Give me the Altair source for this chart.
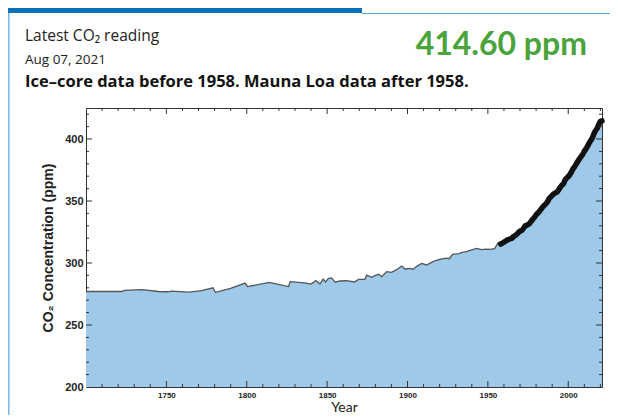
import altair as alt
import pandas as pd

# ---- data ----
ice_years = [1700, 1722, 1724, 1735, 1745, 1751, 1753, 1764, 1772, 1779, 1780.5, 1790, 1799,
             1800.5, 1814, 1826, 1827, 1836, 1840, 1843, 1845.5, 1847.5, 1849, 1850.7, 1852.8,
             1855, 1858, 1862, 1867, 1869.5, 1873.5, 1874.6, 1877.7, 1880, 1882, 1884, 1887,
             1890, 1893, 1896.3, 1898.4, 1901.5, 1903.5, 1906, 1908.8, 1911.8, 1915, 1917,
             1920, 1924, 1926, 1928, 1932, 1934, 1936.7, 1940, 1943, 1946, 1949, 1952,
             1954.3, 1956.4, 1958]
ice_ppm = [277, 277, 278, 278.5, 277, 276.8, 277.3, 276.5, 277.8, 280, 276.4, 279.5, 283.8,
           281, 284.3, 281, 285, 284, 283, 285.8, 283, 287, 284.7, 287.5, 288,
           284.5, 285.5, 285.7, 284.7, 286.8, 286.8, 290.2, 288.4, 290, 291, 289, 293,
           292.5, 294.4, 297.6, 295.2, 295.7, 295, 297.5, 299.7, 298.4, 300.5, 301.8,
           303, 304, 303.5, 307, 307.5, 308.5, 309.1, 310.5, 311.8, 310.8, 311.2, 311,
           311.8, 316.4, 313.7]

ml_years = [1958, 1959, 1960, 1961, 1962, 1963, 1964, 1965, 1966, 1967, 1968, 1969, 1970,
            1971, 1972, 1973, 1974, 1975, 1976, 1977, 1978, 1979, 1980, 1981, 1982, 1983,
            1984, 1985, 1986, 1987, 1988, 1989, 1990, 1991, 1992, 1993, 1994, 1995, 1996,
            1997, 1998, 1999, 2000, 2001, 2002, 2003, 2004, 2005, 2006, 2007, 2008, 2009,
            2010, 2011, 2012, 2013, 2014, 2015, 2016, 2017, 2018, 2019, 2020, 2021]
ml_ppm = [315.3, 316.0, 316.9, 317.6, 318.5, 319.0, 319.6, 320.0, 321.4, 322.2, 323.1, 324.6,
          325.7, 326.3, 327.5, 329.7, 330.2, 331.1, 332.0, 333.8, 335.4, 336.8, 338.8, 340.1,
          341.5, 343.2, 344.9, 346.4, 347.6, 349.3, 351.7, 353.2, 354.5, 355.7, 356.5, 357.2,
          359.0, 361.0, 362.7, 363.9, 366.8, 368.5, 369.7, 371.3, 373.5, 376.0, 377.7, 380.0,
          382.1, 384.0, 385.8, 387.6, 390.1, 391.9, 394.1, 396.7, 398.8, 401.0, 404.4, 406.8,
          408.7, 411.7, 414.2, 414.6]

x_major = [1750, 1800, 1850, 1900, 1950, 2000]
x_minor = [1710, 1720, 1730, 1740, 1760, 1770, 1780, 1790, 1810, 1820, 1830, 1840,
           1860, 1870, 1880, 1890, 1910, 1920, 1930, 1940, 1960, 1970, 1980, 1990,
           2010, 2020]
y_labels = [200, 250, 300, 350, 400]
y_major = [250, 300, 350, 400]
y_minor = [210, 220, 230, 240, 260, 270, 280, 290, 310, 320, 330, 340, 360, 370, 380,
           390, 410, 420]

header_line1 = ["Latest CO₂ reading"]
header_line2 = ["Aug 07, 2021"]
header_line3 = ["Ice–core data before 1958. Mauna Loa data after 1958."]
latest_value = ["414.60 ppm"]

W, H = 516, 279

df_ice = pd.DataFrame({"year": ice_years, "ppm": ice_ppm})
df_ml = pd.DataFrame({"year": ml_years, "ppm": ml_ppm})
df_all = pd.concat([df_ice, df_ml], ignore_index=True)

xs = alt.Scale(domain=[1700, 2021], nice=False, zero=False)
ys = alt.Scale(domain=[200, 425], nice=False, zero=False)

xaxis = alt.Axis(values=x_major, format="d", ticks=False, domain=False, grid=False,
                 labelFont="Liberation Sans", labelFontSize=8, labelFontWeight="bold",
                 labelColor="#222", labelPadding=4, title="Year", titleFont="Lato",
                 titleFontSize=14, titleFontWeight="normal", titleColor="#222",
                 titlePadding=1)
yaxis = alt.Axis(values=y_labels, ticks=False, domain=False, grid=False,
                 labelFont="Liberation Sans", labelFontSize=11, labelFontWeight="bold",
                 labelColor="#222", labelPadding=3, title="CO₂ Concentration (ppm)",
                 titleFont="Liberation Sans", titleFontSize=14, titleFontWeight="bold",
                 titleColor="#222", titlePadding=9)

X = alt.X("year:Q", scale=xs, axis=xaxis)
Y = alt.Y("ppm:Q", scale=ys, axis=yaxis)

area = alt.Chart(df_all).mark_area(color="#9ec9e9", opacity=1).encode(
    x=X, y=Y, y2=alt.datum(200))
ice_line = alt.Chart(df_ice).mark_line(color="#555555", strokeWidth=1.3).encode(x=X, y=Y)
ml_line = alt.Chart(df_ml).mark_line(color="#111111", strokeWidth=5.5, strokeCap="round",
                                     interpolate="monotone").encode(x=X, y=Y)

def xticks(vals, length):
    d = pd.DataFrame({"year": vals})
    b = alt.Chart(d).mark_rule(color="#333", strokeWidth=1).encode(
        x=X, y=alt.value(H), y2=alt.value(H - length))
    t = alt.Chart(d).mark_rule(color="#333", strokeWidth=1).encode(
        x=X, y=alt.value(0), y2=alt.value(length))
    return [b, t]

def yticks(vals, length):
    d = pd.DataFrame({"ppm": vals})
    l = alt.Chart(d).mark_rule(color="#333", strokeWidth=1).encode(
        y=Y, x=alt.value(0), x2=alt.value(length))
    r = alt.Chart(d).mark_rule(color="#333", strokeWidth=1).encode(
        y=Y, x=alt.value(W), x2=alt.value(W - length))
    return [l, r]

def label(txt, x, y, size, weight, color, align="left", font="Open Sans"):
    return alt.Chart(pd.DataFrame({"t": txt})).mark_text(
        align=align, baseline="alphabetic", font=font, fontSize=size,
        fontWeight=weight, color=color).encode(
        x=alt.value(x), y=alt.value(y), text="t:N")

one = pd.DataFrame({"k": [0]})
top_bar = alt.Chart(one).mark_rect(color="#0b72b8").encode(
    x=alt.value(-78), x2=alt.value(276), y=alt.value(-100), y2=alt.value(-95))
top_line = alt.Chart(one).mark_rule(color="#5aa6dc", strokeWidth=1).encode(
    x=alt.value(276), x2=alt.value(524), y=alt.value(-94.5))
left_line = alt.Chart(one).mark_rule(color="#7ab6e3", strokeWidth=1.5).encode(
    x=alt.value(-77.2), y=alt.value(-95), y2=alt.value(320))

layers = [area, ice_line, ml_line]
layers += xticks(x_major, 6) + xticks(x_minor, 3) + yticks(y_major, 6) + yticks(y_minor, 3)
layers += [
    top_bar, top_line, left_line,
    label(header_line1, -61, -67, 15.5, "normal", "#222"),
    label(header_line2, -61, -44, 13.5, "normal", "#222"),
    label(header_line3, -61, -21.5, 16.5, "bold", "#111"),
    label(latest_value, 501, -53, 32, "bold", "#4aa33b", align="right", font="Lato"),
]

chart = alt.layer(*layers).properties(
    width=W, height=H, autosize="none",
    padding={"left": 78, "top": 100, "right": 8, "bottom": 28},
).configure_view(stroke="#333", strokeWidth=1)

chart.save("out.html", embed_options={"renderer": "svg", "actions": False})
